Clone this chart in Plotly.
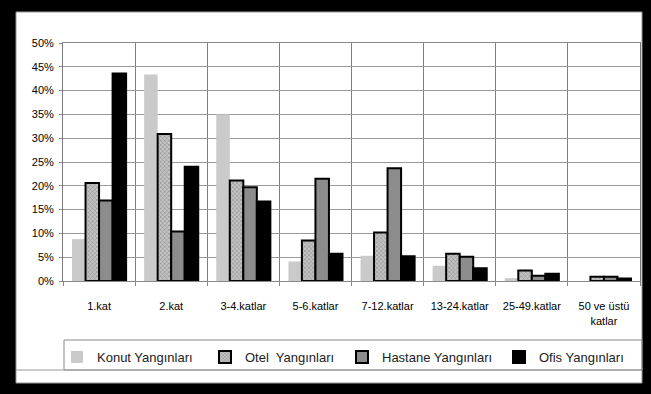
import plotly.graph_objects as go

categories = ["1.kat", "2.kat", "3-4.katlar", "5-6.katlar", "7-12.katlar",
              "13-24.katlar", "25-49.katlar", "50 ve üstü<br>katlar"]
konut = [8.8, 43.4, 35.0, 4.1, 5.3, 3.2, 0.6, 0.0]
otel = [20.6, 30.9, 21.1, 8.5, 10.2, 5.7, 2.2, 0.9]
hastane = [16.9, 10.4, 19.7, 21.5, 23.7, 5.1, 1.1, 0.9]
ofis = [43.6, 24.0, 16.7, 5.7, 5.2, 2.7, 1.5, 0.5]
series_names = ["Konut Yangınları", "Otel  Yangınları", "Hastane Yangınları", "Ofis Yangınları"]
y_ticks = [0, 5, 10, 15, 20, 25, 30, 35, 40, 45, 50]
y_tick_labels = [f"{v}%" for v in y_ticks]

W, H = 651, 394
L, R, T, B = 63, 11, 43, 113
pw, ph = W - L - R, H - T - B


def px(x):
    return (x - L) / pw


def py(y):
    return (H - B - y) / ph


fig = go.Figure()
fig.add_trace(go.Bar(x=categories, y=konut, name=series_names[0], legendwidth=103,
                     marker=dict(color="#cacaca", line=dict(width=0))))
fig.add_trace(go.Bar(x=categories, y=otel, name=series_names[1], legendwidth=92,
                     marker=dict(color="#b4b4b4", line=dict(color="#000", width=2),
                                 pattern=dict(shape="x", size=3, solidity=0.35,
                                              fgcolor="#555555", bgcolor="#c4c4c4"))))
fig.add_trace(go.Bar(x=categories, y=hastane, name=series_names[2], legendwidth=112,
                     marker=dict(color="#8c8c8c", line=dict(color="#000", width=2))))
fig.add_trace(go.Bar(x=categories, y=ofis, name=series_names[3], legendwidth=100,
                     marker=dict(color="#000000", line=dict(color="#000", width=2))))

shapes = [
    # white card inside the black frame
    dict(type="rect", xref="paper", yref="paper", x0=px(16), x1=px(642), y0=py(383), y1=py(12),
         fillcolor="white", line=dict(color="#9a9a9a", width=1), layer="below"),
    # legend frame
    dict(type="rect", xref="paper", yref="paper", x0=px(64), x1=px(642), y0=py(370), y1=py(340),
         fillcolor="rgba(0,0,0,0)", line=dict(color="#8a8a8a", width=1)),
    # line under legend
    dict(type="line", xref="paper", yref="paper", x0=px(16), x1=px(642), y0=py(370), y1=py(370),
         line=dict(color="#9a9a9a", width=1)),
]

fig.update_layout(
    width=W, height=H,
    margin=dict(l=L, r=R, t=T, b=B),
    paper_bgcolor="black",
    plot_bgcolor="white",
    barmode="group", bargap=0.25, bargroupgap=0,
    font=dict(family="Liberation Sans, Arial, sans-serif", size=11, color="#000"),
    shapes=shapes,
    showlegend=True,
    legend=dict(orientation="h", x=px(57), xanchor="left", y=py(342), yanchor="top",
                font=dict(size=13, color="#222"), bgcolor="rgba(0,0,0,0)",
                traceorder="normal", itemwidth=30),
    xaxis=dict(tickson="boundaries", showgrid=True, gridcolor="#7f7f7f", gridwidth=1,
               showline=True, linecolor="#8a8a8a", linewidth=1, mirror=True,
               ticks="outside", ticklen=4, tickcolor="#8a8a8a",
               ticklabelstandoff=15, tickfont=dict(size=11)),
    yaxis=dict(range=[0, 50], tickvals=y_ticks, ticktext=y_tick_labels,
               showgrid=True, gridcolor="#9a9a9a", gridwidth=1,
               showline=True, linecolor="#7a7a7a", linewidth=1, mirror=True,
               ticks="outside", ticklen=3, tickcolor="#8a8a8a",
               ticklabelstandoff=3,
               zeroline=False, tickfont=dict(size=11)),
)

fig.write_html("out.html", config={"displayModeBar": False},
               post_script="document.body.style.margin='0';document.body.style.background='black';")
